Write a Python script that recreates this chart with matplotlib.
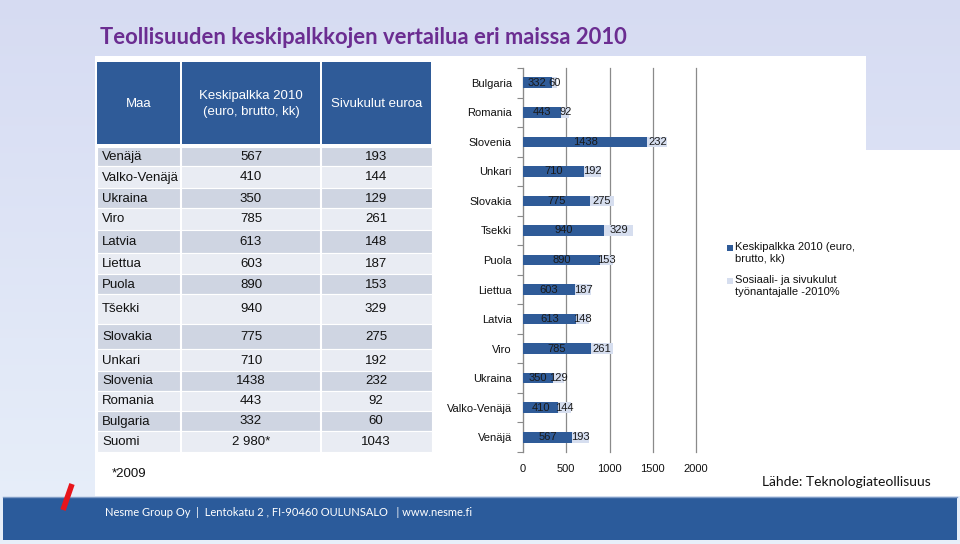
import numpy as np
import matplotlib
matplotlib.use("Agg")
import matplotlib.pyplot as plt
from matplotlib.patches import Rectangle
from matplotlib.lines import Line2D

# ---------------- data ----------------
title = "Teollisuuden keskipalkkojen vertailua eri maissa 2010"
table_headers = ["Maa", "Keskipalkka 2010\n(euro, brutto, kk)", "Sivukulut euroa"]
table_countries = ["Venäjä", "Valko-Venäjä", "Ukraina", "Viro", "Latvia", "Liettua", "Puola",
                   "Tšekki", "Slovakia", "Unkari", "Slovenia", "Romania", "Bulgaria", "Suomi"]
table_salary = ["567", "410", "350", "785", "613", "603", "890", "940", "775", "710",
                "1438", "443", "332", "2 980*"]
table_costs = ["193", "144", "129", "261", "148", "187", "153", "329", "275", "192",
               "232", "92", "60", "1043"]

chart_countries = ["Venäjä", "Valko-Venäjä", "Ukraina", "Viro", "Latvia", "Liettua", "Puola",
                   "Tsekki", "Slovakia", "Unkari", "Slovenia", "Romania", "Bulgaria"]
salary = [567, 410, 350, 785, 613, 603, 890, 940, 775, 710, 1438, 443, 332]
costs = [193, 144, 129, 261, 148, 187, 153, 329, 275, 192, 232, 92, 60]
series_names = ["Keskipalkka 2010 (euro,\nbrutto, kk)",
                "Sosiaali- ja sivukulut\ntyönantajalle -2010%"]
x_ticks = [0, 500, 1000, 1500, 2000]

footnote = "*2009"
source = "Lähde: Teknologiateollisuus"
footer = "Nesme Group Oy  |  Lentokatu 2 , FI-90460 OULUNSALO   | www.nesme.fi"

# ---------------- style ----------------
DARK = "#2f5b98"
LIGHT = "#d6deef"
ROW_DARK = "#cfd5e2"
ROW_LIGHT = "#e9ecf3"
PURPLE = "#6b2d91"
ARIAL = ["Liberation Sans", "DejaVu Sans"]
CALIBRI = ["Lato", "DejaVu Sans"]

W, H = 960, 544
fig = plt.figure(figsize=(W / 100, H / 100), dpi=100)
bg = fig.add_axes([0, 0, 1, 1])
bg.set_xlim(0, W)
bg.set_ylim(H, 0)
bg.axis("off")

# background gradient (sky)
grad = np.linspace(0, 1, 256)[:, None]
c_top = np.array([0.84, 0.86, 0.95])
c_bot = np.array([0.91, 0.94, 0.98])
img = c_top[None, None, :] * (1 - grad[..., None]) + c_bot[None, None, :] * grad[..., None]
img = np.repeat(img, 2, axis=1)
bg.imshow(img, extent=(0, W, H, 0), aspect="auto", zorder=0)

# white panels
bg.add_patch(Rectangle((95, 56), 771, 440, facecolor="white", edgecolor="none", zorder=1))
bg.add_patch(Rectangle((866, 150), 94, 346, facecolor="white", edgecolor="none", zorder=1))

# title
bg.text(100, 38, title, color=PURPLE, fontsize=15.8, fontweight="bold",
        family=CALIBRI, va="center", ha="left", zorder=3)

# ---------------- table ----------------
col_edges = [97, 181, 321, 432]
hdr_top, hdr_bot = 62, 144
for i in range(3):
    bg.add_patch(Rectangle((col_edges[i] + (1 if i else 0), hdr_top),
                           col_edges[i + 1] - col_edges[i] - (1 if i else 0) - 1,
                           hdr_bot - hdr_top, facecolor=DARK, edgecolor="none", zorder=2))
    cx = (col_edges[i] + col_edges[i + 1]) / 2
    bg.text(cx, (hdr_top + hdr_bot) / 2 + 1, table_headers[i], color="white", fontsize=9.5,
            family=ARIAL, ha="center", va="center", linespacing=1.35, zorder=3)

row_edges = [147, 166, 188, 208, 230, 253, 274, 294, 324, 349, 371, 391, 411, 431, 452]
for r in range(len(table_countries)):
    y0, y1 = row_edges[r], row_edges[r + 1]
    color = ROW_DARK if r % 2 == 0 else ROW_LIGHT
    bg.add_patch(Rectangle((col_edges[0], y0), col_edges[-1] - col_edges[0], y1 - y0,
                           facecolor=color, edgecolor="white", linewidth=0.8, zorder=2))
    ym = (y0 + y1) / 2 + 0.5
    bg.text(102, ym, table_countries[r], fontsize=9.5, family=ARIAL, ha="left", va="center",
            color="#111111", zorder=3)
    bg.text(251, ym, table_salary[r], fontsize=9.5, family=ARIAL, ha="center", va="center",
            color="#111111", zorder=3)
    bg.text(376, ym, table_costs[r], fontsize=9.5, family=ARIAL, ha="center", va="center",
            color="#111111", zorder=3)
for xe in col_edges[1:-1]:
    bg.plot([xe, xe], [row_edges[0], row_edges[-1]], color="white", lw=1.5, zorder=2.5)

bg.text(112, 474, footnote, fontsize=9.5, family=ARIAL, ha="left", va="center",
        color="#111111", zorder=3)
bg.text(762, 482, source, fontsize=10, family=CALIBRI, ha="left", va="center",
        color="#111111", zorder=3)

# footer band
bg.add_patch(Rectangle((3, 497), 954, 43, facecolor="#2b5b9b", edgecolor="none", zorder=2))
bg.plot([3, 957], [497, 497], color="#7f9cc6", lw=1, zorder=2.2)
bg.text(105, 512, footer, fontsize=8, family=CALIBRI, color="white", ha="left",
        va="center", zorder=3)
bg.add_line(Line2D([72, 63], [484, 510], color="#e8151b", lw=4, solid_capstyle="butt", zorder=4))

# ---------------- bar chart ----------------
x0p, x1p, ytop, ybot = 523, 696, 68, 452
ax = fig.add_axes([x0p / W, (H - ybot) / H, (x1p - x0p) / W, (ybot - ytop) / H])
ax.set_facecolor("none")
y = np.arange(len(chart_countries))
bar_h = 0.36
ax.barh(y, salary, height=bar_h, color=DARK, zorder=3, label=series_names[0])
ax.barh(y, costs, left=salary, height=bar_h, color=LIGHT, zorder=3, label=series_names[1])
for yi, s, c in zip(y, salary, costs):
    ax.text(s / 2, yi, str(s), ha="center", va="center", fontsize=8, family=ARIAL,
            color="#1a1a1a", zorder=4)
    ax.text(s + c / 2, yi, str(c), ha="center", va="center", fontsize=8, family=ARIAL,
            color="#1a1a1a", zorder=4)

ax.set_xlim(0, 2000)
ax.set_ylim(-0.5, len(chart_countries) - 0.5)
ax.set_xticks(x_ticks)
ax.set_xticklabels([str(t) for t in x_ticks], fontsize=8, family=ARIAL)
ax.tick_params(axis="x", length=0, pad=9, colors="#111111")
ax.grid(axis="x", color="#8a8a8a", lw=0.9, zorder=1)
for gl in ax.get_xgridlines():
    gl.set_clip_on(False)
ax.set_yticks(np.arange(-0.5, len(chart_countries), 1.0))
ax.set_yticklabels([])
ax.tick_params(axis="y", which="major", length=4, color="#8a8a8a", direction="out")
ax.set_yticks(y, minor=True)
ax.set_yticklabels(chart_countries, minor=True, fontsize=8, family=ARIAL)
ax.tick_params(axis="y", which="minor", length=0, pad=8, colors="#111111")
for sp in ["top", "right", "bottom"]:
    ax.spines[sp].set_visible(False)
ax.spines["left"].set_color("#8a8a8a")

# legend (drawn on figure-pixel axes)
leg_items = [(248, DARK, series_names[0]), (281, LIGHT, series_names[1])]
for yy, col, name in leg_items:
    bg.add_patch(Rectangle((727, yy - 3.5), 6, 6, facecolor=col, edgecolor="none", zorder=3))
    bg.text(735, yy - 6, name, fontsize=8, family=ARIAL, ha="left", va="top",
            linespacing=1.3, color="#111111", zorder=3)

fig.savefig("out.png", dpi=100)
